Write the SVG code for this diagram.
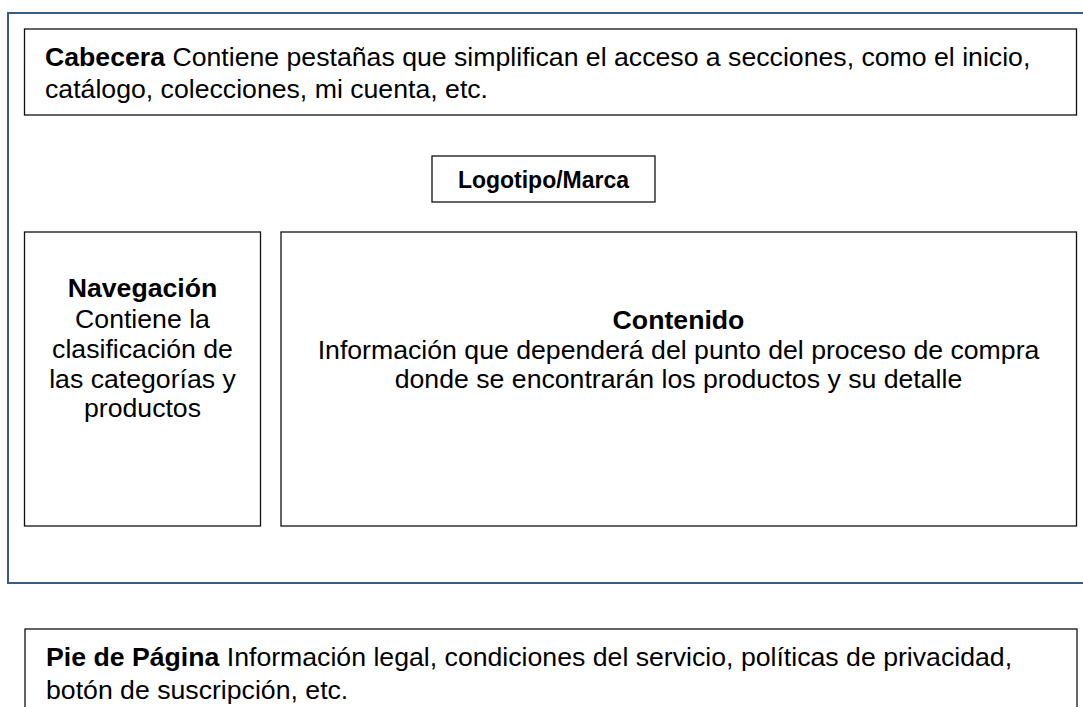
<svg xmlns="http://www.w3.org/2000/svg" width="1083" height="707" viewBox="0 0 1083 707">
<style>
.box{fill:#fff;stroke:#111;stroke-width:1.3}
.outer{fill:none;stroke:#3b5b84;stroke-width:2}
text{font-family:"Liberation Sans",Arial,sans-serif;font-size:26.67px;fill:#000}
.b{font-weight:bold}
.c{text-anchor:middle}
.logo{font-size:23px;font-weight:bold}
</style>
<rect width="1083" height="707" fill="#fff"/>
<g id="pagina">
<path class="outer" d="M1090,13 H8 V583 H1090"/>
</g>
<g id="cabecera">
<rect class="box" x="24.5" y="29" width="1052" height="86"/>
<text x="45" y="65.5"><tspan class="b">Cabecera</tspan> Contiene pestañas que simplifican el acceso a secciones, como el inicio,</text>
<text x="45" y="97.5">catálogo, colecciones, mi cuenta, etc.</text>
</g>
<g id="logotipo">
<rect class="box" x="432" y="156" width="223" height="46"/>
<text class="logo c" x="543.5" y="188">Logotipo/Marca</text>
</g>
<g id="navegacion">
<rect class="box" x="24.5" y="232" width="236" height="294"/>
<text class="c" x="142.5" y="297"><tspan class="b">Navegación</tspan><tspan x="142.5" y="327.5">Contiene la</tspan><tspan x="142.5" y="357.5">clasificación de</tspan><tspan x="142.5" y="388">las categorías y</tspan><tspan x="142.5" y="417">productos</tspan></text>
</g>
<g id="contenido">
<rect class="box" x="281" y="232" width="795.5" height="294"/>
<text class="c" x="678.5" y="328.5"><tspan class="b">Contenido</tspan><tspan x="678.5" y="358.5">Información que dependerá del punto del proceso de compra</tspan><tspan x="678.5" y="388">donde se encontrarán los productos y su detalle</tspan></text>
</g>
<g id="pie">
<rect class="box" x="25" y="629" width="1052" height="100"/>
<text x="46" y="666"><tspan class="b">Pie de Página</tspan> Información legal, condiciones del servicio, políticas de privacidad,</text>
<text x="46" y="698.5">botón de suscripción, etc.</text>
</g>
<g id="conectores"/>
</svg>
